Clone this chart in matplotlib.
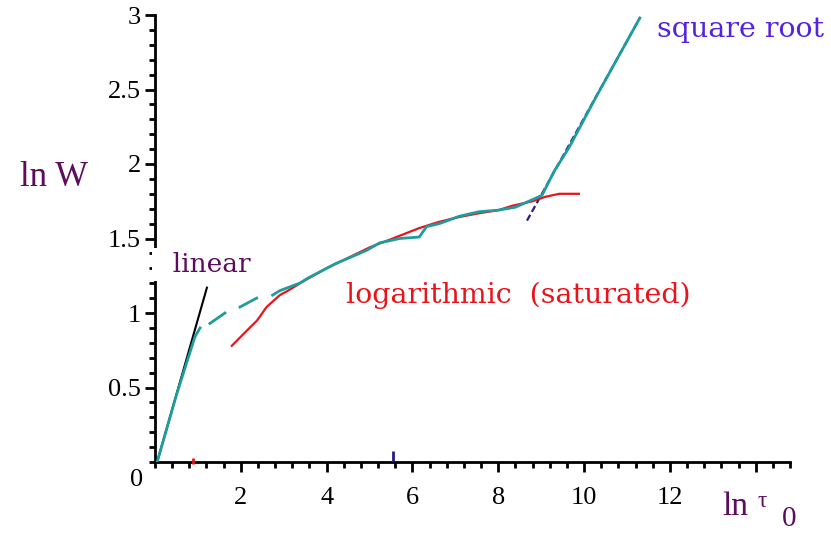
import numpy as np
import matplotlib.pyplot as plt
from matplotlib.ticker import MultipleLocator, FixedLocator

# ln W against ln tau_0 : measured curve plus the three asymptotic regimes
cyan_x = [0.05, 0.5, 0.93, 1.05, np.nan, 1.28, 1.63, np.nan, 1.98, 2.37, np.nan,
          2.74, 2.91, 3.37, 3.6, 4.2, 4.93, 5.23, 5.7, 6.16, 6.33, 6.63, 7.1,
          7.56, 8.0, 8.4, 8.79, 9.02, 9.3, 9.65, 10.28, 10.8, 11.3]
cyan_y = [0.0, 0.45, 0.84, 0.9, np.nan, 0.93, 1.0, np.nan, 1.04, 1.1, np.nan,
          1.12, 1.15, 1.2, 1.24, 1.33, 1.42, 1.47, 1.5, 1.51, 1.58, 1.6, 1.65,
          1.68, 1.69, 1.71, 1.76, 1.79, 1.95, 2.11, 2.45, 2.72, 2.98]

lin_x = [0.05, 1.21]
lin_y = [0.0, 1.17]

log_x = [1.79, 2.1, 2.38, 2.6, 2.91, 3.1, 3.5, 4.0, 4.5, 5.0, 5.63, 6.16, 6.6,
         7.02, 7.56, 8.0, 8.33, 8.8, 9.1, 9.42, 9.88]
log_y = [0.78, 0.87, 0.95, 1.04, 1.12, 1.15, 1.22, 1.3, 1.37, 1.44, 1.51, 1.57,
         1.61, 1.64, 1.67, 1.69, 1.72, 1.75, 1.78, 1.8, 1.8]

sqrt_x = [8.67, 11.3]
sqrt_y = [1.62, 2.98]

ytick_vals = [0.5, 1, 1.5, 2, 2.5, 3]
ytick_lbls = ["0.5", "1", "1.5", "2", "2.5", "3"]
xtick_vals = [2, 4, 6, 8, 10, 12]
xtick_lbls = ["2", "4", "6", "8", "10", "12"]

purple = "#5e0c5e"
red = "#e8141c"
teal = "#1f9c9c"
navy = "#2a1a8a"
violet = "#5522dd"

W, H = 831, 534
fig = plt.figure(figsize=(W / 100, H / 100), dpi=100)
ax = fig.add_axes([155 / W, (H - 462) / H, (790 - 155) / W, (462 - 15) / H])
ax.set_xlim(0, 14.8)
ax.set_ylim(0, 3)

for s in ["top", "right"]:
    ax.spines[s].set_visible(False)
for s in ["left", "bottom"]:
    ax.spines[s].set_linewidth(2)
ax.spines["left"].set_zorder(1)

ax.xaxis.set_major_locator(FixedLocator(xtick_vals + [14]))
ax.xaxis.set_minor_locator(MultipleLocator(0.4))
ax.set_xticklabels(xtick_lbls + [""])
ax.yaxis.set_major_locator(FixedLocator(ytick_vals))
ax.yaxis.set_minor_locator(MultipleLocator(0.1))
ax.set_yticklabels(ytick_lbls)
ax.tick_params(which="major", length=7, width=2, direction="out",
               labelsize=19, labelfontfamily="Liberation Serif")
ax.tick_params(which="minor", length=4, width=2, direction="out")
ax.tick_params(axis="x", which="major", pad=11)
ax.tick_params(axis="y", which="major", pad=3)

ax.plot(lin_x, lin_y, color="black", lw=1.5, zorder=3)
ax.plot(sqrt_x, sqrt_y, color=navy, lw=1.6, ls=(0, (3, 1.5)), zorder=3)
ax.plot(log_x, log_y, color=red, lw=1.6, zorder=4)
ax.plot(cyan_x, cyan_y, color=teal, lw=2.0, zorder=5)

# stray tick marks on the abscissa
ax.plot([0.88], [0.01], marker="|", ms=5, mew=2, color=red, clip_on=False, zorder=4)
ax.plot([5.55], [0.04], marker="|", ms=7, mew=2, color=navy, clip_on=False, zorder=4)

# leading spaces widen the white box so it breaks the y axis line
ax.text(0.03, 1.275, "  linear", color=purple, fontsize=19, family="DejaVu Serif",
        zorder=2, clip_on=False,
        bbox=dict(boxstyle="square,pad=0.15", fc="white", ec="none"))
ax.text(4.45, 1.07, "logarithmic  (saturated)", color=red, fontsize=20.5,
        family="DejaVu Serif", zorder=6)
ax.text(11.7, 2.85, "square root", color=violet, fontsize=20.5,
        family="DejaVu Serif", clip_on=False)
ax.text(-3.15, 1.85, "ln W", color=purple, fontsize=25, family="Liberation Serif",
        clip_on=False)
ax.text(13.22, -0.356, "ln", color=purple, fontsize=24, family="Liberation Serif",
        clip_on=False)
ax.text(14.05, -0.30, "τ", color=purple, fontsize=17, family="Liberation Serif",
        clip_on=False)
ax.text(14.79, -0.383, "0", color=purple, fontsize=21, family="Liberation Serif",
        ha="center", va="center", clip_on=False)
ax.text(-0.42, -0.12, "0", fontsize=19, family="Liberation Serif",
        ha="center", va="center", clip_on=False)

fig.savefig("out.png", dpi=100)
